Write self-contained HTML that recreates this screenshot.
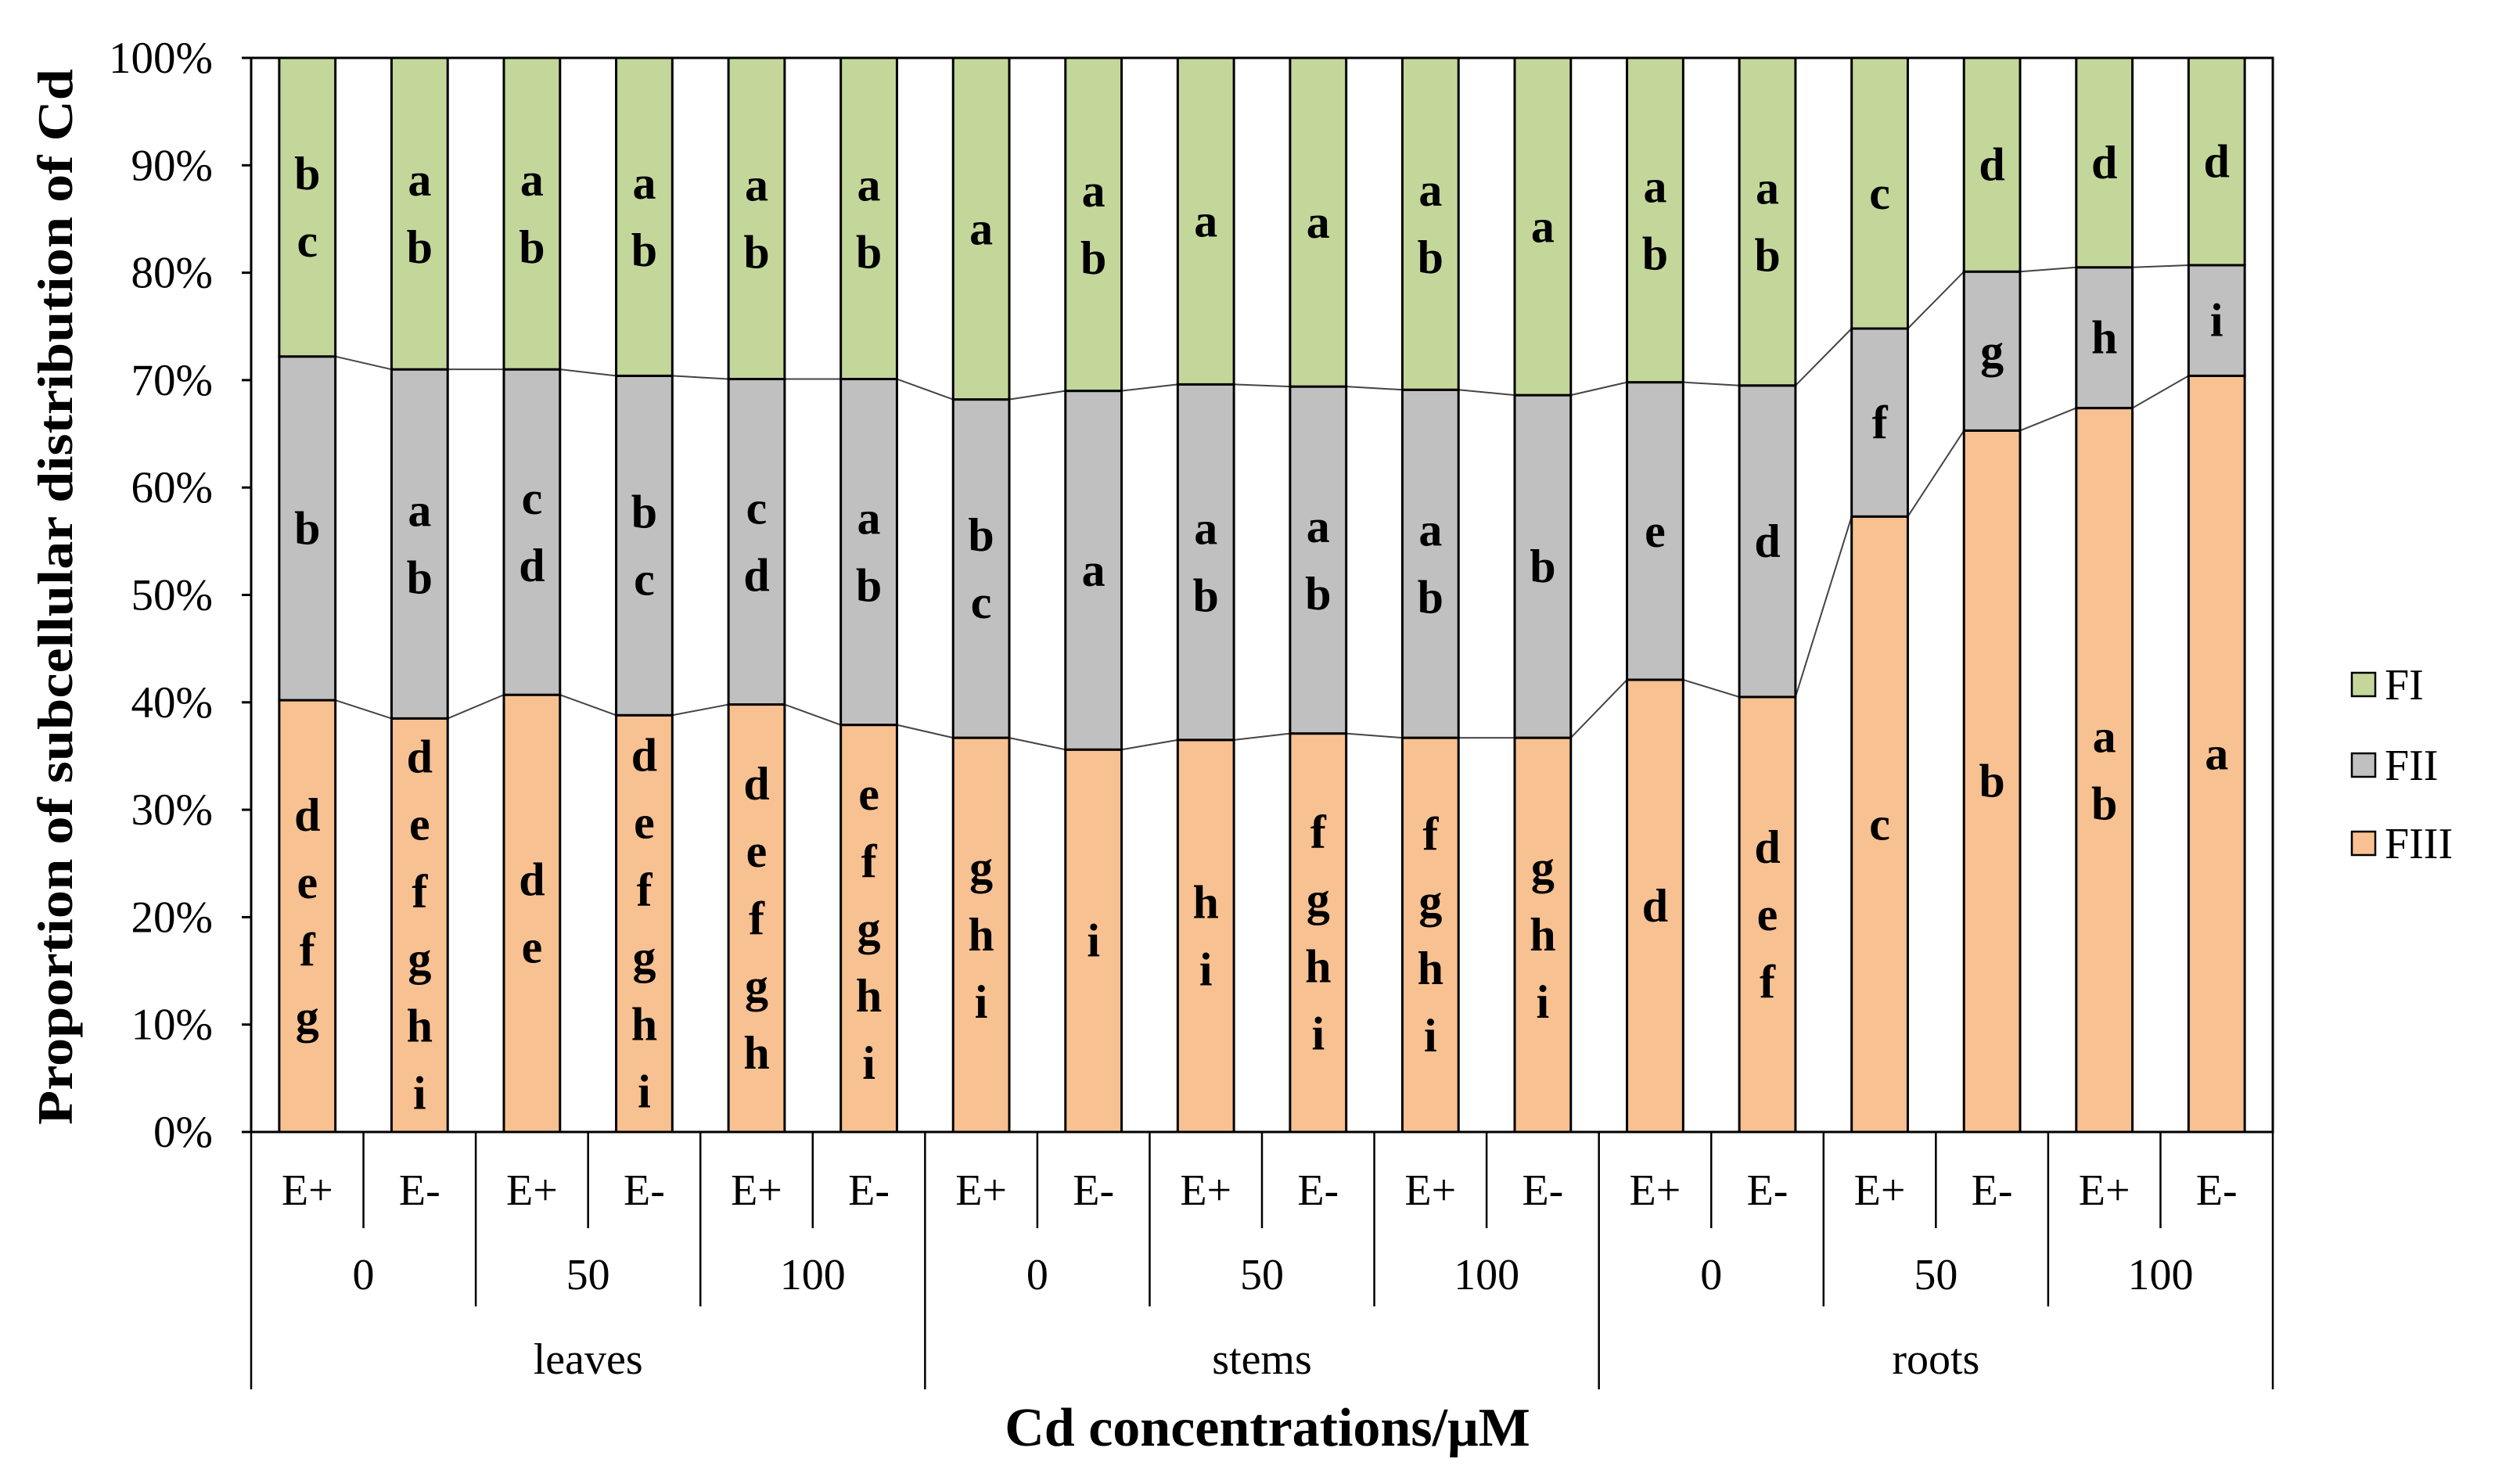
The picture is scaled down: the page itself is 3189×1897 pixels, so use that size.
<!DOCTYPE html>
<html><head><meta charset="utf-8"><style>
html,body{margin:0;padding:0;background:#fff}
svg{display:block}
text{font-family:"Liberation Serif",serif;fill:#000}
</style></head><body>
<svg id="chart" width="3189" height="1897" viewBox="0 0 3189 1897" xmlns="http://www.w3.org/2000/svg"></svg>
<script>
const treatments = ["E+","E-","E+","E-","E+","E-","E+","E-","E+","E-","E+","E-","E+","E-","E+","E-","E+","E-"];
const concentrations = ["0","50","100","0","50","100","0","50","100"];
const organs = ["leaves","stems","roots"];
const fiiiValues = [40.2,38.5,40.7,38.8,39.8,37.9,36.7,35.6,36.5,37.1,36.7,36.7,42.1,40.5,57.3,65.3,67.4,70.4];
const fiiValues  = [32.0,32.5,30.3,31.6,30.3,32.2,31.5,33.4,33.1,32.3,32.4,31.9,27.7,29.0,17.5,14.8,13.1,10.3];
const fiLetters   = ["bc","ab","ab","ab","ab","ab","a","ab","a","a","ab","a","ab","ab","c","d","d","d"];
const fiiLetters  = ["b","ab","cd","bc","cd","ab","bc","a","ab","ab","ab","b","e","d","f","g","h","i"];
const fiiiLetters = ["defg","defghi","de","defghi","defgh","efghi","ghi","i","hi","fghi","fghi","ghi","d","def","c","b","ab","a"];
const yTicks = ["0%","10%","20%","30%","40%","50%","60%","70%","80%","90%","100%"];

const NS="http://www.w3.org/2000/svg";
const svg=document.getElementById('chart');
const L=321,R=2905,T=74,B=1447;
const n=treatments.length, cw=(R-L)/n, bw=cw*0.5;
const y=v=>B-(B-T)*v/100;
const xc=i=>L+cw*(i+0.5);
function mk(tag,attrs,txt){const e=document.createElementNS(NS,tag);for(const k in attrs)e.setAttribute(k,attrs[k]);if(txt!==undefined)e.textContent=txt;svg.appendChild(e);return e;}

let e=mk('rect',{x:L,y:T,width:R-L,height:B-T,fill:'none',stroke:'#000','stroke-width':3});



yTicks.forEach((t,k)=>{
  const v=k*10, yy=y(v);
  let tk=mk('line',{x1:L-12,x2:L,y1:yy,y2:yy,stroke:'#000','stroke-width':3});
  
  
  let tl=mk('text',{x:272,y:yy+19,'text-anchor':'end','font-size':57},t);
  
  
});

const fiiTop=fiiiValues.map((v,i)=>v+fiiValues[i]);
for(let i=0;i<n-1;i++){
  [fiiiValues,fiiTop].forEach(arr=>{
    let ln=mk('line',{x1:xc(i)+bw/2,y1:y(arr[i]),x2:xc(i+1)-bw/2,y2:y(arr[i+1]),stroke:'#444','stroke-width':2});
    
    
  });
}

function letters(str,cx,y0,y1){
  const sp=86, c=(y0+y1)/2, m=str.length;
  for(let k=0;k<m;k++){
    const ty=c-(m-1)*sp/2+k*sp+20;
    let t=mk('text',{x:cx,y:ty,'text-anchor':'middle','font-size':60,'font-weight':'bold'},str[k]);
    
    
  }
}
for(let i=0;i<n;i++){
  const x0=xc(i)-bw/2, a=fiiiValues[i], b=fiiTop[i];
  let r3=mk('rect',{x:x0,y:y(a),width:bw,height:B-y(a),fill:'#F8C191',stroke:'#000','stroke-width':3});
  
  
  let r2=mk('rect',{x:x0,y:y(b),width:bw,height:y(a)-y(b),fill:'#C0C0C0',stroke:'#000','stroke-width':3});
  
  
  let r1=mk('rect',{x:x0,y:T,width:bw,height:y(b)-T,fill:'#C4D79B',stroke:'#000','stroke-width':3});
  
  
  letters(fiLetters[i],xc(i),T,y(b));
  letters(fiiLetters[i],xc(i),y(b),y(a));
  letters(fiiiLetters[i],xc(i),y(a),B);
}

for(let i=0;i<=n;i++){
  const xx=L+cw*i;
  let bottom = (i%6===0)?1776:(i%2===0?1670:1570);
  let ln=mk('line',{x1:xx,x2:xx,y1:B,y2:bottom,stroke:'#000','stroke-width':2.5});
  
  
}
treatments.forEach((t,i)=>{
  let tx=mk('text',{x:xc(i),y:1540,'text-anchor':'middle','font-size':56},t);
  
  
});
concentrations.forEach((t,i)=>{
  let tx=mk('text',{x:L+cw*(2*i+1),y:1648,'text-anchor':'middle','font-size':56},t);
  
  
});
organs.forEach((t,i)=>{
  let tx=mk('text',{x:L+cw*(6*i+3),y:1756,'text-anchor':'middle','font-size':56},t);
  
  
});

let xt=mk('text',{x:1620,y:1848,'text-anchor':'middle','font-size':70,'font-weight':'bold'},'Cd concentrations/μM');


let yt=mk('text',{x:0,y:0,'text-anchor':'middle','font-size':64,'font-weight':'bold',transform:'translate(92,763) rotate(-90)',textLength:1350,lengthAdjust:'spacingAndGlyphs'},'Proportion of subcellular distribution of Cd');



const legNames=["FI","FII","FIII"], legCols=['#C4D79B','#C0C0C0','#F8C191'], legY=[875,978,1078];
legNames.forEach((nm,k)=>{
  let sq=mk('rect',{x:3006,y:legY[k]-15,width:30,height:30,fill:legCols[k],stroke:'#000','stroke-width':2.5});
  
  
  let tx=mk('text',{x:3048,y:legY[k]+19,'font-size':56},nm);
  
  
});
</script>
</body></html>
